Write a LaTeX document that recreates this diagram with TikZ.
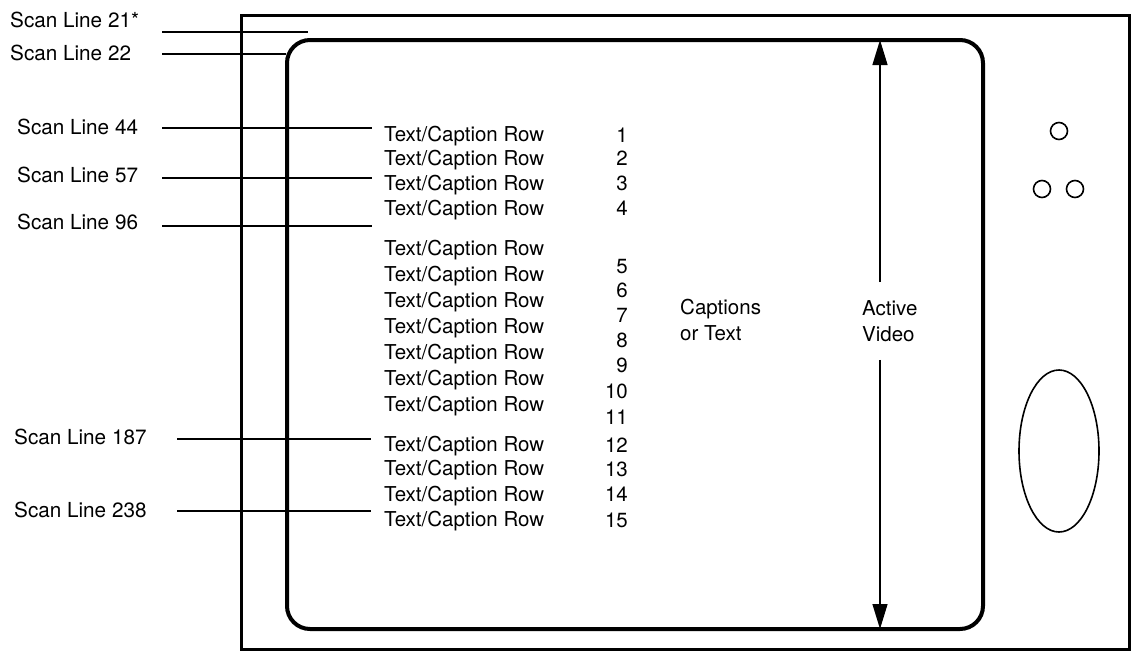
\documentclass[tikz,border=0pt]{standalone}
\usepackage{fontspec}
\setmainfont{TeX Gyre Heros}
\usetikzlibrary{arrows.meta}
\begin{document}
\begin{tikzpicture}[x=1pt,y=-1pt,
  scanlbl/.style={anchor=west,inner sep=0pt,font=\fontsize{20.7}{24}\selectfont},
  scanline/.style={line width=2.3pt},
  rowtxt/.style={anchor=west,inner sep=0pt,text height=14pt,text depth=4pt,font=\fontsize{20.5}{24}\selectfont},
  rownum/.style={anchor=east,inner sep=0pt,text height=14pt,text depth=4pt,font=\fontsize{20.5}{24}\selectfont},
  sidetxt/.style={anchor=west,align=left,inner xsep=0pt,inner ysep=18pt,font=\fontsize{20.5}{26}\selectfont},
  arr/.style={line width=1.3pt,-{Triangle[length=25pt,width=15pt]}},
  knob/.style={line width=1.6pt}]
\useasboundingbox (0,0) rectangle (1133,653);
% cabinet and screen
\draw[line width=3pt] (241,15) rectangle (1129,649);
\draw[line width=4pt,rounded corners=23pt] (287,40) rectangle (983,629);
% knobs and speaker
\draw[knob] (1059,131) circle (8.5);
\draw[knob] (1042,189) circle (8.5);
\draw[knob] (1075,189) circle (8.5);
\draw[knob] (1059,451) ellipse (40 and 81);
% scan line labels
\node[scanlbl] (s21) at (10,20) {Scan Line 21*};
\node[scanlbl] (s22) at (10,53) {Scan Line 22};
\node[scanlbl] (s44) at (17,127) {Scan Line 44};
\node[scanlbl] (s57) at (17,175) {Scan Line 57};
\node[scanlbl] (s96) at (17,222) {Scan Line 96};
\node[scanlbl] (s187) at (14,437) {Scan Line 187};
\node[scanlbl] (s238) at (14,510) {Scan Line 238};
% scan line coordinates
\coordinate (a21) at (162,32);  \coordinate (b21) at (308,32);
\coordinate (a22) at (162,54);  \coordinate (b22) at (286,54);
\coordinate (a44) at (162,128); \coordinate (b44) at (372,128);
\coordinate (a57) at (162,178); \coordinate (b57) at (372,178);
\coordinate (a96) at (162,226); \coordinate (b96) at (372,226);
\coordinate (a187) at (177,439); \coordinate (b187) at (371,439);
\coordinate (a238) at (177,511); \coordinate (b238) at (371,511);
\foreach \k in {21,22,44,57,96,187,238}{\draw[scanline] (a\k) -- (b\k);}
% text rows
\foreach \i/\y in {1/136,2/160,3/185,4/210,5/250,6/276,7/302,8/328,9/354,10/380,11/406,12/446,13/470,14/496,15/521}{
  \node[rowtxt] (r\i) at (384,\y) {Text/Caption Row};}
% row numbers
\foreach \i/\y in {1/137,2/160,3/185,4/210,5/268,6/292,7/317,8/342,9/367,10/393,11/419,12/447,13/471,14/496,15/522}{
  \node[rownum] (n\i) at (628,\y) {\i};}
% captions / active video
\node[sidetxt] (capt) at (680,320) {Captions\\or Text};
\node[sidetxt] (actv) at (862,321) {Active\\Video};
\coordinate (atop) at (880,40);
\coordinate (abot) at (880,629);
\draw[arr] (actv.north -| atop) -- (atop);
\draw[arr] (actv.south -| abot) -- (abot);
\end{tikzpicture}
\end{document}
